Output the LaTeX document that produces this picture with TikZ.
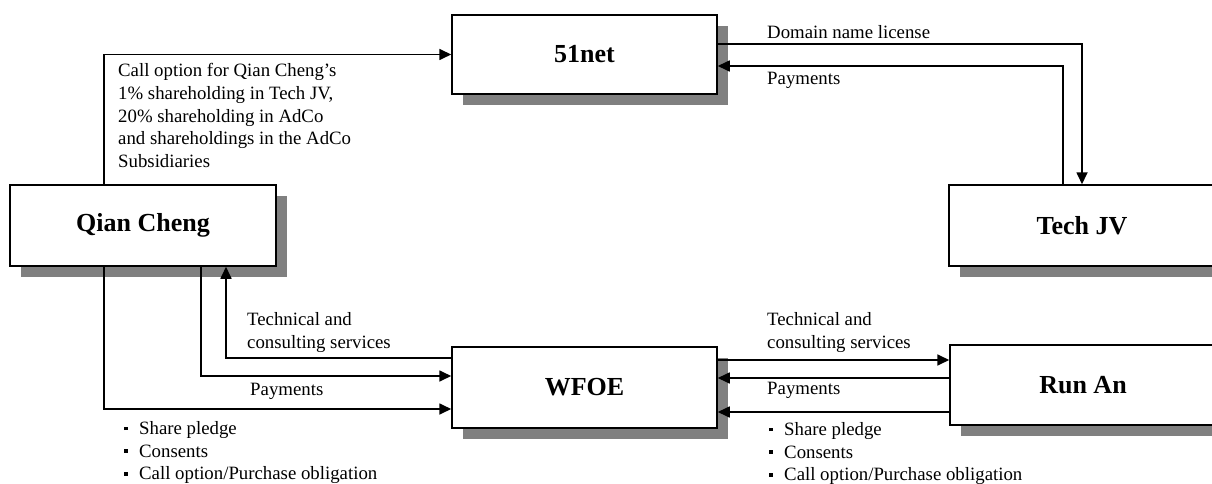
\documentclass[tikz,border=0pt]{standalone}
\usepackage{fontspec}
\setmainfont{Liberation Serif}
\usetikzlibrary{arrows.meta, shadows}
\definecolor{shadowgray}{RGB}{128,128,128}
\newcommand{\sqbul}{\makebox[15pt][l]{\raisebox{0.22em}{\rule{3.5pt}{3.5pt}}}}

\def\cgboxes{
    % \draw[help lines] (0, 0) grid[step=100] (1212, 484);
    \node [entity, minimum width=266pt, minimum height=81pt] (qian) at (143, 225.5) {Qian Cheng};
    \node [entity, minimum width=265pt, minimum height=79pt] (net) at (584.5, 54.5) {51net};
    \node [entity, minimum width=266pt, minimum height=81pt] (techjv) at (1082, 225.5) {Tech JV};
    \node [entity, minimum width=265pt, minimum height=81pt] (wfoe) at (584.5, 387.5) {WFOE};
    \node [entity, minimum width=266pt, minimum height=80pt] (runan) at (1083, 385) {Run An};
  }

\begin{document}
\begin{tikzpicture}[x=1pt, y=-1pt,
    entity/.style={draw=black, line width=1.5pt, fill=white, inner sep=0pt,
      font=\bfseries\fontsize{26}{30}\selectfont,
      drop shadow={shadow xshift=11pt, shadow yshift=-11pt, fill=shadowgray, opacity=1}},
    link/.style={draw=black, line width=1.7pt, -{Triangle[length=12pt, width=11pt]}},
    note/.style={inner sep=0pt, align=left, font=\fontsize{18.8}{22.8}\selectfont}]
    \useasboundingbox (0, 0) rectangle (1212, 484);
    \clip (0, 0) rectangle (1212, 484);
    \cgboxes
    % call option from Qian Cheng to 51net
    \path[link] ([xshift=-39pt]qian.north) |- (net.west);
    \node [note, anchor=north west] (calllbl) at (118, 63) {Call option for Qian Cheng's\\1\% shareholding in Tech JV,\\20\%  shareholding in AdCo\\and shareholdings in the AdCo\\Subsidiaries};
    % 51net and Tech JV
    \path[link] ([yshift=10.5pt]net.east) -| (techjv.north);
    \path[link] ([xshift=-19pt]techjv.north) |- ([yshift=-11.5pt]net.east);
    \node [note, anchor=west] (domainlbl) at (767, 32) {Domain name license};
    \node [note, anchor=west] (netpaylbl) at (767, 80) {Payments};
    % Qian Cheng and WFOE
    \path[link] ([yshift=29.5pt]wfoe.west) -| ([xshift=83pt]qian.south);
    \path[link] ([xshift=58pt]qian.south) |- ([yshift=11.5pt]wfoe.west);
    \path[link] ([xshift=-39pt]qian.south) |- ([yshift=-21.5pt]wfoe.west);
    \node [note, anchor=north west] (qsvclbl) at (247, 312) {Technical and\\consulting services};
    \node [note, anchor=west] (qpaylbl) at (250, 391) {Payments};
    \node [note, anchor=north west] (qpledgelbl) at (124, 421) {\sqbul Share pledge\\\sqbul Consents\\\sqbul Call option/Purchase obligation};
    % WFOE and Run An
    \coordinate (svc) at ([yshift=27.5pt]wfoe.east);
    \coordinate (pay) at ([yshift=7pt]runan.west);
    \coordinate (pledge) at ([yshift=-27pt]runan.west);
    \path[link] (svc) -- (svc -| runan.west);
    \path[link] (pay) -- (pay -| wfoe.east);
    \path[link] (pledge) -- (pledge -| wfoe.east);
    \node [note, anchor=north west] (rsvclbl) at (767, 312) {Technical and\\consulting services};
    \node [note, anchor=west] (rpaylbl) at (767, 390) {Payments};
    \node [note, anchor=north west] (rpledgelbl) at (769, 422) {\sqbul Share pledge\\\sqbul Consents\\\sqbul Call option/Purchase obligation};
  \end{tikzpicture}
\end{document}
